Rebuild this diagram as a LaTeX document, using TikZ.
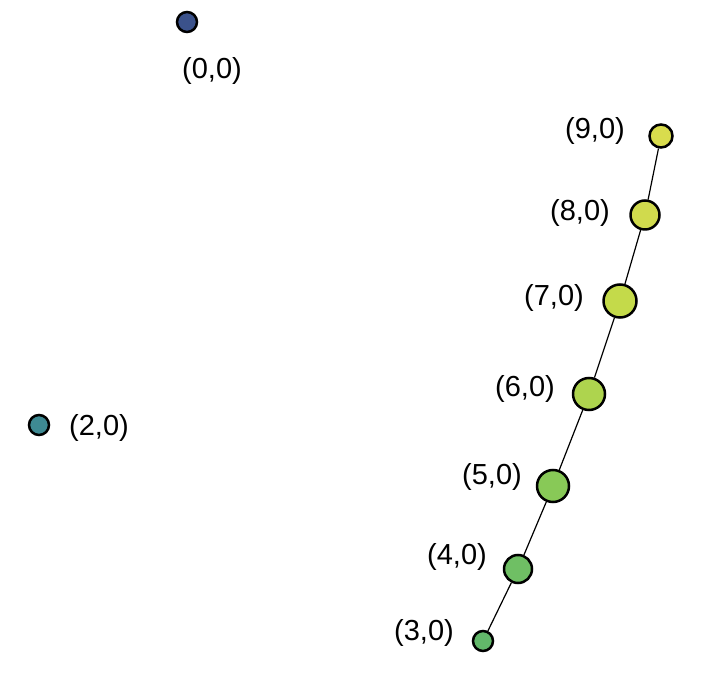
\documentclass[tikz,border=0pt]{standalone}
\usepackage{fontspec}
\setmainfont{Liberation Sans}
\definecolor{c0}{HTML}{3B528B}
\definecolor{c2}{HTML}{3E8A93}
\definecolor{c3}{HTML}{62B86A}
\definecolor{c4}{HTML}{6FBF64}
\definecolor{c5}{HTML}{88C957}
\definecolor{c6}{HTML}{AED44E}
\definecolor{c7}{HTML}{C4DA4A}
\definecolor{c8}{HTML}{D0DA4D}
\definecolor{c9}{HTML}{D9DC4D}
\begin{document}
\begin{tikzpicture}[x=1pt,y=1pt,
  vtx/.style={circle,draw=black,line width=2.5pt,inner sep=0pt},
  lab/.style={font=\fontsize{29}{32}\selectfont,inner sep=0pt},
  edge/.style={draw=black,line width=1.2pt}]
\useasboundingbox (0,0) rectangle (711,674);
\node[vtx,fill=c0,minimum size=20pt] (n0) at (187,652) {};
\node[vtx,fill=c2,minimum size=20pt] (n2) at (39,249) {};
\node[vtx,fill=c3,minimum size=20pt] (n3) at (483,33) {};
\node[vtx,fill=c4,minimum size=28pt] (n4) at (518,105) {};
\node[vtx,fill=c5,minimum size=32pt] (n5) at (553,188) {};
\node[vtx,fill=c6,minimum size=32pt] (n6) at (589,280) {};
\node[vtx,fill=c7,minimum size=33pt] (n7) at (620,373) {};
\node[vtx,fill=c8,minimum size=29pt] (n8) at (645,459) {};
\node[vtx,fill=c9,minimum size=23pt] (n9) at (661,538) {};
\node[lab] (l0) at (212,603) {(0,0)};
\node[lab] (l2) at (99,246) {(2,0)};
\node[lab] (l3) at (424,41) {(3,0)};
\node[lab] (l4) at (457,117) {(4,0)};
\node[lab] (l5) at (492,197) {(5,0)};
\node[lab] (l6) at (525,285) {(6,0)};
\node[lab] (l7) at (554,376) {(7,0)};
\node[lab] (l8) at (580,461) {(8,0)};
\node[lab] (l9) at (595,543) {(9,0)};
\draw[edge] (n3) -- (n4);
\draw[edge] (n4) -- (n5);
\draw[edge] (n5) -- (n6);
\draw[edge] (n6) -- (n7);
\draw[edge] (n7) -- (n8);
\draw[edge] (n8) -- (n9);
\end{tikzpicture}
\end{document}
